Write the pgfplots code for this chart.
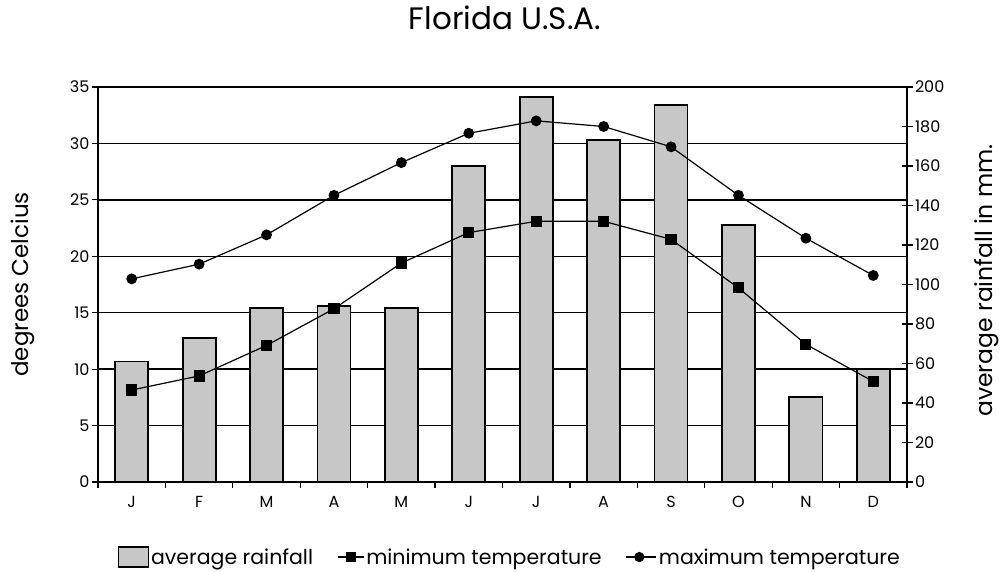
\documentclass[border=0pt]{standalone}
\usepackage{fontspec}
\setmainfont{Poppins}
\usepackage{pgfplots}
\pgfplotsset{compat=1.18}
\definecolor{barfill}{gray}{0.78}
\begin{document}
\begin{tikzpicture}[x=1pt,y=1pt]
\useasboundingbox (0,0) rectangle (1003,572);
% Rainfall axis (right)
\begin{axis}[at={(98pt,90pt)}, anchor=south west, width=809pt, height=395pt, scale only axis,
  xmin=-0.5, xmax=11.5, ymin=0, ymax=200,
  axis y line*=right, axis x line=none,
  ytick={0,20,...,200}, tick align=center, major tick length=11pt,
  tick style={black, line width=1.2pt},
  axis line style={black, line width=1.8pt},
  /pgf/number format/assume math mode=true,
  yticklabel style={font=\fontsize{16}{19}\selectfont, xshift=-1pt},
  extra y ticks={28.5714,57.1429,85.7143,114.2857,142.8571,171.4286,200},
  extra y tick labels={},
  extra y tick style={grid=major, major grid style={black, line width=1.4pt}, major tick length=0pt},
  ylabel={average rainfall in mm.},
  ylabel style={at={(axis description cs:1.099,0.51)}, anchor=center, font=\fontsize{23.5}{26}\selectfont},
]
\addplot[ybar, bar width=0.49, fill=barfill, draw=black, line width=1.8pt]
 coordinates {(0,61) (1,73) (2,88) (3,89) (4,88) (5,160) (6,195) (7,173) (8,191) (9,130) (10,43) (11,57)};
\end{axis}
% Temperature axis (left)
\begin{axis}[at={(98pt,90pt)}, anchor=south west, width=809pt, height=395pt, scale only axis,
  xmin=-0.5, xmax=11.5, ymin=0, ymax=35,
  axis y line*=left, axis x line*=bottom,
  axis line style={black, line width=1.8pt},
  tick style={black, line width=1.2pt}, tick align=outside, major tick length=6pt,
  ytick={0,5,...,35},
  xtick={-0.5,0.5,...,11.5}, xticklabels={},
  extra x ticks={0,1,...,11},
  extra x tick labels={J,F,M,A,M,J,J,A,S,O,N,D},
  extra x tick style={major tick length=0pt, xticklabel style={yshift=-11pt}},
  /pgf/number format/assume math mode=true,
  yticklabel style={font=\fontsize{16}{19}\selectfont, xshift=1pt},
  xticklabel style={font=\fontsize{16}{19}\selectfont},
  ylabel={degrees Celcius},
  ylabel style={at={(axis description cs:-0.093,0.5)}, anchor=center, font=\fontsize{23}{26}\selectfont},
  title={Florida U.S.A.},
  title style={at={(axis description cs:0.503,1.159)}, anchor=center, font=\fontsize{31}{34}\selectfont},
  legend columns=3,
  legend style={draw=none, fill=none, at={(axis description cs:0.509,-0.19)}, anchor=center,
    font=\fontsize{20.5}{24}\selectfont,
    /tikz/every even column/.append style={column sep=22pt}},
]
\addlegendimage{legend image code/.code={\draw[fill=barfill, draw=black, line width=1.4pt] (0pt,-10pt) rectangle (30pt,10pt);}}
\addlegendentry{average rainfall}
\addplot[black, line width=1.2pt, mark=square*, mark size=5pt,
  legend image code/.code={\draw[black, line width=1.2pt] (0pt,0pt) -- (26pt,0pt); \fill[black] (9pt,-4.5pt) rectangle (18pt,4.5pt);}]
 coordinates {(0,8.15) (1,9.4) (2,12.1) (3,15.35) (4,19.4) (5,22.1) (6,23.1) (7,23.1) (8,21.5) (9,17.2) (10,12.2) (11,8.9)};
\addlegendentry{minimum temperature}
\addplot[black, line width=1.2pt, mark=*, mark size=4.8pt,
  legend image code/.code={\draw[black, line width=1.2pt] (0pt,0pt) -- (30pt,0pt); \fill[black] (13pt,0pt) circle (4.5pt);}]
 coordinates {(0,18.0) (1,19.3) (2,21.9) (3,25.4) (4,28.3) (5,30.9) (6,32.0) (7,31.5) (8,29.7) (9,25.4) (10,21.6) (11,18.3)};
\addlegendentry{maximum temperature}
\end{axis}
\end{tikzpicture}
\end{document}
